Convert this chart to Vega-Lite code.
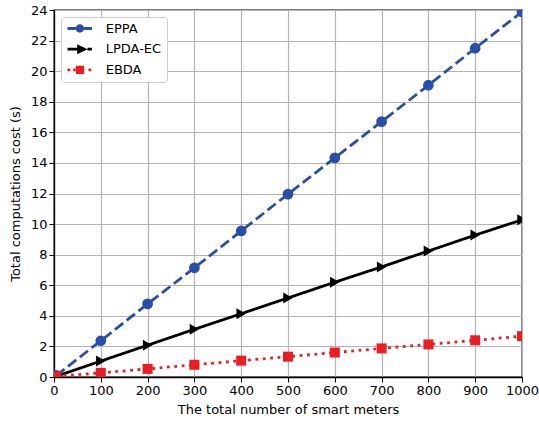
{
  "$schema": "https://vega.github.io/schema/vega-lite/v6.json",
  "width": 468,
  "height": 367,
  "autosize": {"type": "none"},
  "padding": {"left": 54, "top": 10, "right": 17, "bottom": 47},
  "background": "white",
  "config": {
    "font": "DejaVu Sans",
    "view": {"stroke": "black", "strokeWidth": 1.3},
    "axis": {
      "labelFont": "DejaVu Sans", "titleFont": "DejaVu Sans",
      "labelFontSize": 13, "titleFontSize": 13, "titleFontWeight": "normal",
      "labelColor": "black", "titleColor": "black",
      "domainColor": "black", "domainWidth": 1.3,
      "tickColor": "black", "tickSize": 5, "tickWidth": 1,
      "gridColor": "#b4b4b4", "gridWidth": 1.2, "labelOverlap": false, "labelFlush": false
    }
  },
  "data": {"values": [
    {"series": "EPPA", "x": 5, "y": 0.1},
    {"series": "EPPA", "x": 100, "y": 2.37},
    {"series": "EPPA", "x": 200, "y": 4.78},
    {"series": "EPPA", "x": 300, "y": 7.14},
    {"series": "EPPA", "x": 400, "y": 9.55},
    {"series": "EPPA", "x": 500, "y": 11.96},
    {"series": "EPPA", "x": 600, "y": 14.33},
    {"series": "EPPA", "x": 700, "y": 16.7},
    {"series": "EPPA", "x": 800, "y": 19.08},
    {"series": "EPPA", "x": 900, "y": 21.5},
    {"series": "EPPA", "x": 1000, "y": 23.88},
    {"series": "LPDA-EC", "x": 5, "y": 0.05},
    {"series": "LPDA-EC", "x": 100, "y": 1.04},
    {"series": "LPDA-EC", "x": 200, "y": 2.08},
    {"series": "LPDA-EC", "x": 300, "y": 3.12},
    {"series": "LPDA-EC", "x": 400, "y": 4.14},
    {"series": "LPDA-EC", "x": 500, "y": 5.17},
    {"series": "LPDA-EC", "x": 600, "y": 6.2},
    {"series": "LPDA-EC", "x": 700, "y": 7.2},
    {"series": "LPDA-EC", "x": 800, "y": 8.24},
    {"series": "LPDA-EC", "x": 900, "y": 9.28},
    {"series": "LPDA-EC", "x": 1000, "y": 10.28},
    {"series": "EBDA", "x": 5, "y": 0.05},
    {"series": "EBDA", "x": 100, "y": 0.27},
    {"series": "EBDA", "x": 200, "y": 0.53},
    {"series": "EBDA", "x": 300, "y": 0.8},
    {"series": "EBDA", "x": 400, "y": 1.07},
    {"series": "EBDA", "x": 500, "y": 1.33},
    {"series": "EBDA", "x": 600, "y": 1.6},
    {"series": "EBDA", "x": 700, "y": 1.87},
    {"series": "EBDA", "x": 800, "y": 2.13},
    {"series": "EBDA", "x": 900, "y": 2.4},
    {"series": "EBDA", "x": 1000, "y": 2.67}
  ]},
  "encoding": {
    "x": {"field": "x", "type": "quantitative",
      "scale": {"domain": [0, 1000], "nice": false},
      "axis": {"values": [0,100,200,300,400,500,600,700,800,900,1000], "format": "d", "title": "The total number of smart meters", "titlePadding": 6}},
    "y": {"field": "y", "type": "quantitative",
      "scale": {"domain": [0, 24], "nice": false},
      "axis": {"values": [0,2,4,6,8,10,12,14,16,18,20,22,24], "format": "d", "title": "Total computations cost (s)", "titlePadding": 8}},
    "color": {"field": "series", "type": "nominal",
      "scale": {"domain": ["EPPA", "LPDA-EC", "EBDA"], "range": ["#2a4ea8", "#000000", "#ec1c24"]},
      "legend": {
        "orient": "none", "legendX": 7, "legendY": 7, "title": null,
        "fillColor": "white", "strokeColor": "#cccccc", "cornerRadius": 3,
        "padding": 5, "labelFontSize": 13, "labelFont": "DejaVu Sans", "labelColor": "black",
        "symbolSize": 100, "symbolStrokeWidth": 0, "rowPadding": 6.7, "labelOffset": 26.7, "offset": 0
      }}
  },
  "layer": [
    {
      "mark": {"type": "line", "strokeWidth": 2.8, "strokeCap": "butt", "clip": true},
      "encoding": {
        "strokeDash": {"field": "series", "type": "nominal",
          "scale": {"domain": ["EPPA", "LPDA-EC", "EBDA"], "range": [[10.4, 4.5], [1, 0], [2.8, 4.6]]},
          "legend": null}
      }
    },
    {
      "transform": [{"filter": "datum.series === 'EPPA'"}],
      "mark": {"type": "point", "shape": "circle", "filled": true, "opacity": 1, "size": 115, "clip": true}
    },
    {
      "transform": [{"filter": "datum.series === 'LPDA-EC'"}],
      "mark": {"type": "point", "shape": "triangle-right", "filled": true, "opacity": 1, "size": 120, "clip": true}
    },
    {
      "transform": [{"filter": "datum.series === 'EBDA'"}],
      "mark": {"type": "point", "shape": "square", "filled": true, "opacity": 1, "size": 100, "clip": true}
    },
    {
      "transform": [{"filter": "datum.x < 0"}],
      "mark": {"type": "point", "filled": true, "opacity": 1, "size": 100},
      "encoding": {
        "shape": {"field": "series", "type": "nominal",
          "scale": {"domain": ["EPPA", "LPDA-EC", "EBDA"], "range": [
            "M-1,-0.28H0.64V0.28H-1Z M2.32,-0.28H3.88V0.28H2.32Z M2.32,0A0.84,0.84 0 1,1 0.64,0A0.84,0.84 0 1,1 2.32,0Z",
            "M-1,-0.28H0.94V0.28H-1Z M3.0,-0.28H3.88V0.28H3.0Z M3.0,0L0.94,-1L0.94,1Z",
            "M-1,-0.27H-0.46V0.27H-1Z M0.14,-0.27H0.64V0.27H0.14Z M0.68,-0.83H2.34V0.83H0.68Z M3.2,-0.27H3.74V0.27H3.2Z"
          ]}}
      }
    }
  ]
}
